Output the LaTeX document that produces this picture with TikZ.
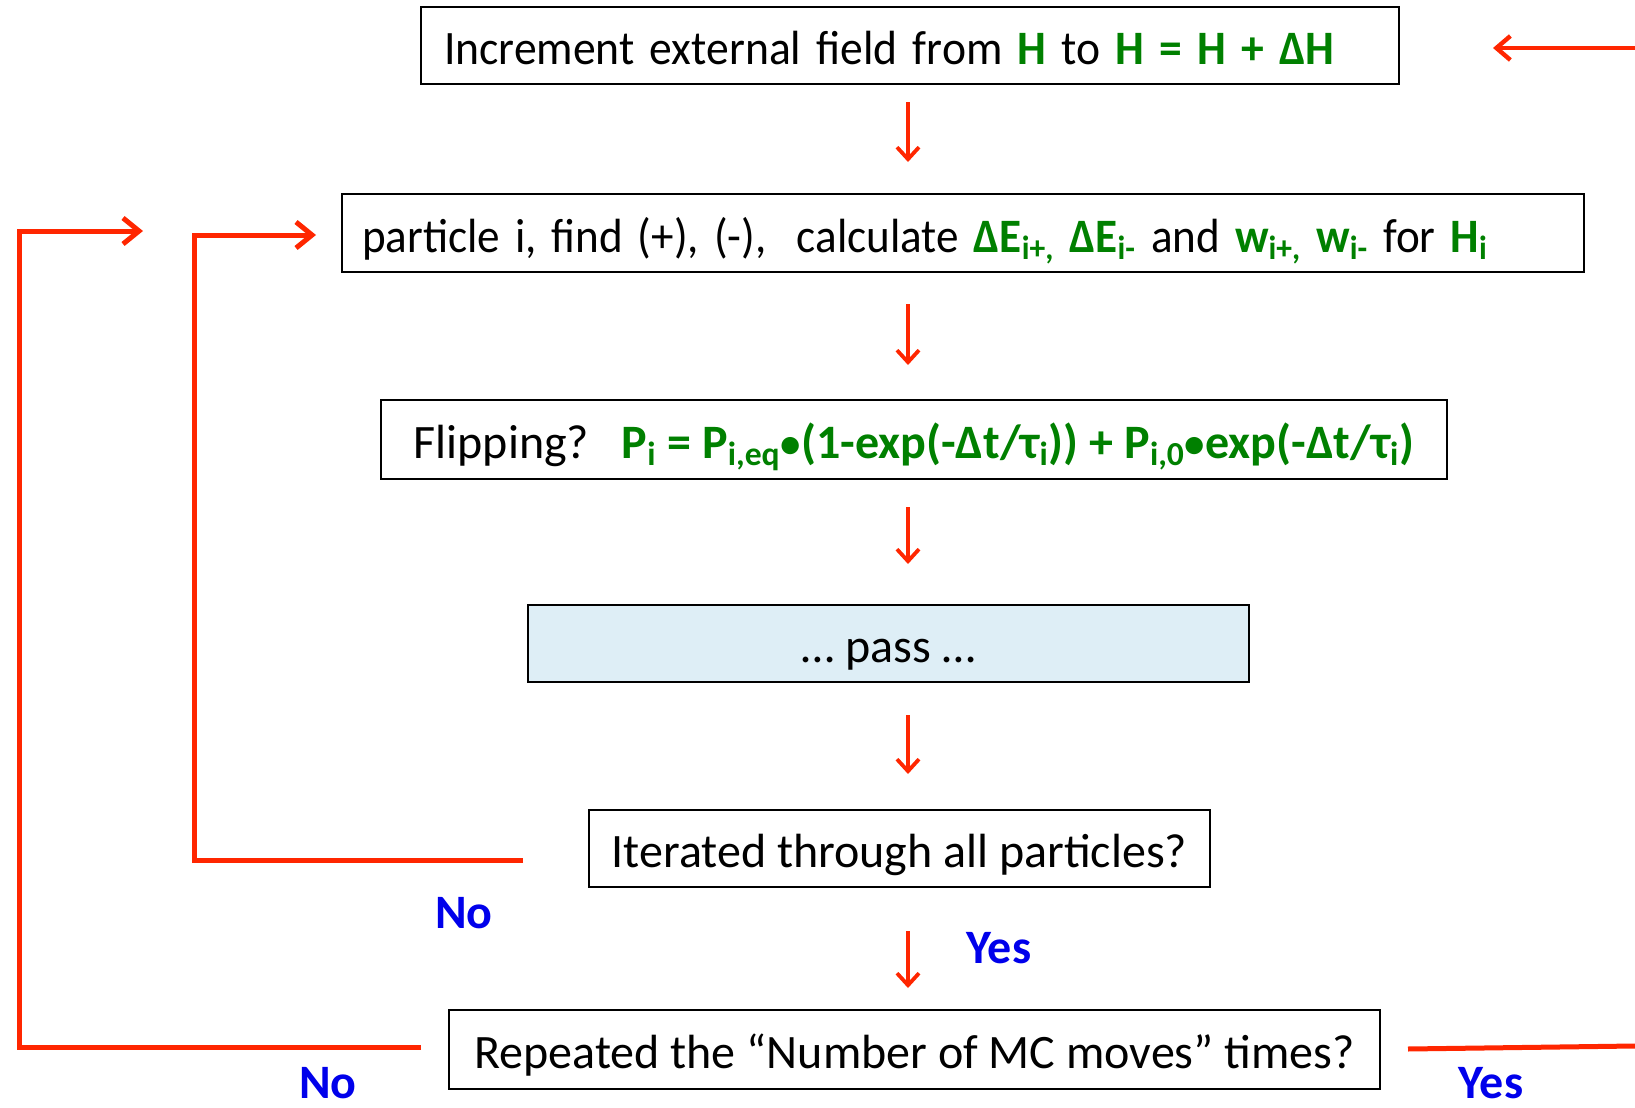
\documentclass[tikz,border=0pt]{standalone}
\usepackage{fontspec}
\usepackage{graphicx}
\setmainfont{Carlito}
\usetikzlibrary{arrows.meta}
\definecolor{rd}{RGB}{255,38,0}
\definecolor{gr}{RGB}{0,128,0}
\definecolor{bl}{RGB}{0,0,235}
\definecolor{passfill}{RGB}{222,238,246}
\newcommand{\G}[1]{\textcolor{gr}{\textbf{#1}}}
\newcommand{\smallbul}{\raisebox{0.5pt}{\scalebox{0.85}{•}}}
\begin{document}
\begin{tikzpicture}[x=0.5pt,y=-0.5pt,
  box/.style={draw=black, line width=0.9pt, inner sep=0pt, text height=19pt, text depth=0pt, font=\fontsize{24}{28}\selectfont},
  lbox/.style={box, align=left, inner xsep=#1},
  arr/.style={draw=rd, line width=1.9pt, -{Straight Barb[length=6pt,width=11pt,line width=1.9pt]}},
  looparr/.style={draw=rd, line width=2.5pt, -{Straight Barb[length=8pt,width=13pt,line width=2.5pt]}},
  loopline/.style={draw=rd, line width=2.5pt},
  lbl/.style={text=bl, anchor=base, inner sep=0pt, font=\fontsize{24}{28}\selectfont\bfseries}]
\useasboundingbox (0,0) rectangle (1635,1108);

% boxes
\node[lbox=11.5pt, text width=466pt, minimum height=38.5pt] (b1) at (910,45.5)
  {\scalebox{0.95}[1]{Increment external field from \G{H} to \G{H = H + ΔH}}};
\node[lbox=10pt, text width=601pt, minimum height=39pt] (b2) at (963,233)
  {\scalebox{0.94}[1]{particle i, find (+), (-),\ \ calculate \G{ΔE\textsubscript{i+,} ΔE\textsubscript{i-}} and \G{w\textsubscript{i+,} w\textsubscript{i-}} for \G{H\textsubscript{i}}}};
\node[box, minimum width=533pt, minimum height=39.5pt] (b3) at (914,439.5)
  {Flipping?\ \ \ \G{P\textsubscript{i} = P\textsubscript{i,eq}\smallbul(1-exp(-Δt/τ\textsubscript{i})) + P\textsubscript{i,0}\smallbul exp(-Δt/τ\textsubscript{i})}};
\node[box, fill=passfill, minimum width=360.5pt, minimum height=38.5pt] (b4) at (888.5,643.5)
  {… pass …};
\node[box, minimum width=310.5pt, minimum height=38.5pt] (b5) at (899.5,848.5)
  {Iterated through all particles?};
\node[box, minimum width=465.5pt, minimum height=39.5pt] (b6) at (914.5,1049.5)
  {Repeated the “Number of MC moves” times?};

% vertical arrows
\coordinate (a1s) at (908,102); \coordinate (a1e) at (908,162);
\coordinate (a2s) at (908,304); \coordinate (a2e) at (908,365);
\coordinate (a3s) at (908,507); \coordinate (a3e) at (908,564);
\coordinate (a4s) at (908,715); \coordinate (a4e) at (908,774);
\coordinate (a5s) at (908,931); \coordinate (a5e) at (908,988);
\draw[arr] (a1s) -- (a1e);
\draw[arr] (a2s) -- (a2e);
\draw[arr] (a3s) -- (a3e);
\draw[arr] (a4s) -- (a4e);
\draw[arr] (a5s) -- (a5e);

% top right incoming arrow
\coordinate (tr1) at (1635,48); \coordinate (tr2) at (1493,48);
\draw[draw=rd, line width=2.2pt, -{Straight Barb[length=7pt,width=12pt,line width=2.2pt]}] (tr1) -- (tr2);

% inner loop
\coordinate (i1) at (523,860); \coordinate (i2) at (194,860);
\coordinate (i3) at (194,235); \coordinate (i4) at (316,235);
\draw[looparr] (i1) -- (i2) -- (i3) -- (i4);

% outer loop
\coordinate (o1) at (421,1047); \coordinate (o2) at (19,1047);
\coordinate (o3) at (19,231); \coordinate (o4) at (143,231);
\draw[looparr] (o1) -- (o2) -- (o3) -- (o4);

% right exit
\coordinate (r1) at (1408,1049); \coordinate (r2) at (1635,1046);
\draw[loopline] (r1) -- (r2);

% labels
\node[lbl] (no1) at (464,928) {No};
\node[lbl] (yes1) at (999,963) {Yes};
\node[lbl] (no2) at (328,1098) {No};
\node[lbl] (yes2) at (1491,1098) {Yes};
\end{tikzpicture}
\end{document}
